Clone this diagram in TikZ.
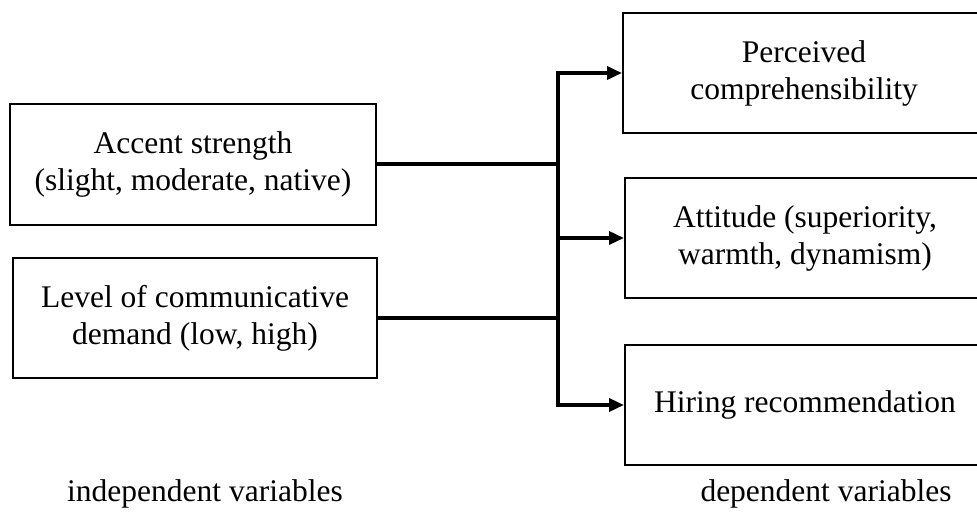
\documentclass[tikz,border=0pt]{standalone}
\usepackage{fontspec}
\setmainfont{Liberation Serif}
\usetikzlibrary{arrows.meta}
\tikzset{
  varbox/.style={draw, line width=2pt, minimum width=366pt, minimum height=121pt,
    align=center, inner sep=0pt, font=\fontsize{31.5}{37}\selectfont},
  caption/.style={inner sep=0pt, font=\fontsize{31.5}{37}\selectfont},
  link/.style={line width=3.5pt},
  feed/.style={link, -{Triangle[length=15pt,width=13pt]}}
}

\begin{document}
\begin{tikzpicture}[x=1pt,y=-1pt]
        \useasboundingbox (0,0) rectangle (977,514);
        \clip (0,0) rectangle (977,514);

        % independent variables
        \node[varbox] (accent) at (193,164) {Accent strength\\(slight, moderate, native)};
        \node[varbox, minimum width=364pt, minimum height=120pt] (demand) at (195,318) {Level of communicative\\demand (low, high)};

        % dependent variables
        \node[varbox, minimum width=362pt, minimum height=120pt] (compr) at (804,73) {Perceived\\comprehensibility};
        \node[varbox, minimum width=360pt, minimum height=120pt] (attit) at (805,238) {Attitude (superiority,\\warmth, dynamism)};
        \node[varbox, minimum width=360pt, minimum height=120pt] (hiring) at (805,405) {Hiring recommendation};

        \coordinate (spine) at (558,0);

        \draw[link] (accent.east) -- (accent.east -| spine);
        \draw[link] (demand.east) -- (demand.east -| spine);
        \draw[link, line cap=rect] (compr.west -| spine) -- (hiring.west -| spine);
        \foreach \dv in {compr,attit,hiring}
            \draw[feed] (\dv.west -| spine) -- (\dv.west);

        \node[caption] (indep) at (205,494) {independent variables};
        \node[caption] (dep) at (826,494) {dependent variables};
\end{tikzpicture}
\end{document}
